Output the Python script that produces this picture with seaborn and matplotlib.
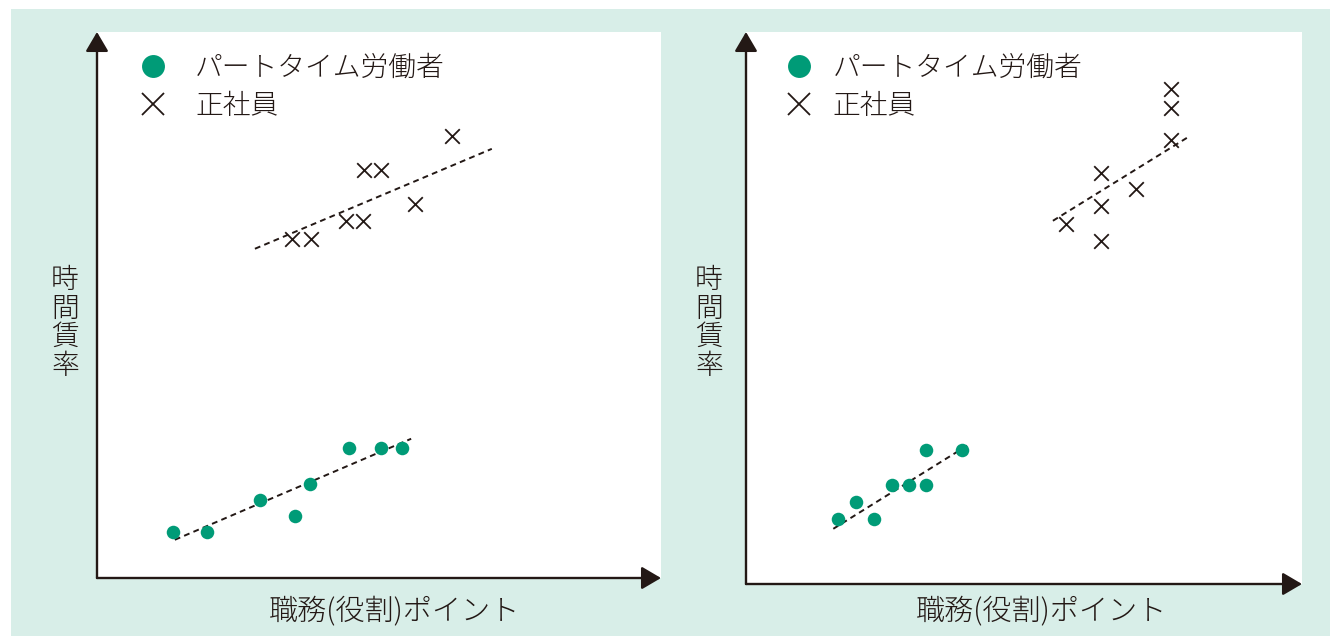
import matplotlib
matplotlib.use("Agg")
import matplotlib.pyplot as plt
from matplotlib.lines import Line2D
from matplotlib.patches import Rectangle
import seaborn as sns
import pandas as pd

sns.set_style("white")
plt.rcParams['font.family'] = ['Noto Sans CJK JP', 'DejaVu Sans']

# ---------------- data ----------------
legend_labels = ["パートタイム労働者", "正社員"]
x_label = "職務(役割)ポイント"
y_label = "時間賃率"

# left panel
left_part_x = [13.5, 19.5, 28.9, 35.1, 37.8, 44.7, 50.4, 54.1]
left_part_y = [8.4, 8.4, 14.3, 11.4, 17.2, 23.8, 23.8, 23.8]
left_full_x = [34.6, 37.9, 44.1, 47.2, 47.3, 50.4, 56.4, 62.9]
left_full_y = [62.1, 62.1, 65.4, 65.4, 74.7, 74.7, 68.5, 81.0]
left_part_trend_x = [13.8, 55.7]
left_part_trend_y = [7.0, 25.5]
left_full_trend_x = [28.0, 70.0]
left_full_trend_y = [60.3, 78.6]

# right panel
right_part_x = [16.5, 19.8, 23.0, 26.3, 29.3, 32.4, 32.4, 38.8]
right_part_y = [11.8, 14.9, 11.8, 17.9, 17.9, 17.9, 24.3, 24.3]
right_full_x = [76.4, 76.4, 76.4, 63.8, 70.1, 63.8, 57.6, 63.8]
right_full_y = [89.7, 86.2, 80.4, 74.5, 71.6, 68.5, 65.2, 62.1]
right_part_trend_x = [15.7, 40.3]
right_part_trend_y = [10.0, 25.4]
right_full_trend_x = [55.2, 79.9]
right_full_trend_y = [65.8, 81.2]

# ---------------- style ----------------
GREEN = "#009b77"
DARK = "#231815"
MINT = "#d8eee8"

W, H = 1330, 636
fig = plt.figure(figsize=(W / 100, H / 100), dpi=100, facecolor="white")
fig.patches.append(Rectangle((11 / W, 0), (W - 11) / W, (H - 9) / H,
                             transform=fig.transFigure, facecolor=MINT,
                             edgecolor="none", zorder=-10))

panels = [
    dict(rect=[97 / W, (H - 578) / H, 564 / W, 546 / H],
         part=(left_part_x, left_part_y), full=(left_full_x, left_full_y),
         ptrend=(left_part_trend_x, left_part_trend_y),
         ftrend=(left_full_trend_x, left_full_trend_y),
         leg_anchor=(0.0755, 0.960), textpad=1.0,
         xlab=(0.5266, -0.060), ylab=(-0.0567, 0.467)),
    dict(rect=[746 / W, (H - 584) / H, 556 / W, 552 / H],
         part=(right_part_x, right_part_y), full=(right_full_x, right_full_y),
         ptrend=(right_part_trend_x, right_part_trend_y),
         ftrend=(right_full_trend_x, right_full_trend_y),
         leg_anchor=(0.0701, 0.960), textpad=0.72,
         xlab=(0.532, -0.049), ylab=(-0.0665, 0.473)),
]

for p in panels:
    ax = fig.add_axes(p["rect"])
    ax.set_zorder(1)
    ax.set_facecolor("white")

    dfp = pd.DataFrame({"x": p["part"][0], "y": p["part"][1]})
    dff = pd.DataFrame({"x": p["full"][0], "y": p["full"][1]})
    sns.lineplot(x=p["ptrend"][0], y=p["ptrend"][1], ax=ax, color=DARK,
                 linewidth=1.4, linestyle=(0, (3.0, 2.2)), estimator=None, zorder=2)
    sns.lineplot(x=p["ftrend"][0], y=p["ftrend"][1], ax=ax, color=DARK,
                 linewidth=1.4, linestyle=(0, (3.0, 2.2)), estimator=None, zorder=2)
    sns.scatterplot(data=dfp, x="x", y="y", ax=ax, color=GREEN, s=95,
                    linewidth=0, marker="o", zorder=3)
    sns.scatterplot(data=dff, x="x", y="y", ax=ax, color=DARK, s=110,
                    linewidth=1.3, marker="x", zorder=3)

    ax.set_xlim(0, 100)
    ax.set_ylim(0, 100)
    for s in ax.spines.values():
        s.set_visible(False)
    ax.set_xticks([])
    ax.set_yticks([])
    ax.set_xlabel("")
    ax.set_ylabel("")

    # axes with arrows
    arrow_kw = dict(arrowstyle="-|>,head_length=0.85,head_width=0.5",
                    lw=1.7, color=DARK, shrinkA=0, shrinkB=0,
                    mutation_scale=14)
    ax.annotate("", xy=(0, 1), xytext=(0, 0), xycoords="axes fraction",
                textcoords="axes fraction", arrowprops=arrow_kw, annotation_clip=False)
    ax.annotate("", xy=(1, 0), xytext=(0, 0), xycoords="axes fraction",
                textcoords="axes fraction", arrowprops=arrow_kw, annotation_clip=False)

    # axis titles
    ax.text(p["xlab"][0], p["xlab"][1], x_label, transform=ax.transAxes,
            fontsize=21, fontweight="light", color=DARK, ha="center",
            va="center", clip_on=False)
    ax.text(p["ylab"][0], p["ylab"][1], "\n".join(y_label), transform=ax.transAxes,
            fontsize=20, fontweight="light", color=DARK, ha="center",
            va="center", linespacing=1.02, clip_on=False)

    handles = [Line2D([], [], marker="o", ls="", color=GREEN, markersize=16.5,
                      markeredgewidth=0),
               Line2D([], [], marker="x", ls="", color=DARK, markersize=16.5,
                      markeredgewidth=1.3)]
    ax.legend(handles=handles, labels=legend_labels, loc="upper left",
              bbox_to_anchor=p["leg_anchor"], frameon=False,
              prop={"size": 20, "weight": "light"},
              handlelength=1.0, handletextpad=p["textpad"], labelspacing=0.36,
              borderaxespad=0, borderpad=0, labelcolor=DARK)

fig.savefig("out.png", dpi=100, facecolor="white")
